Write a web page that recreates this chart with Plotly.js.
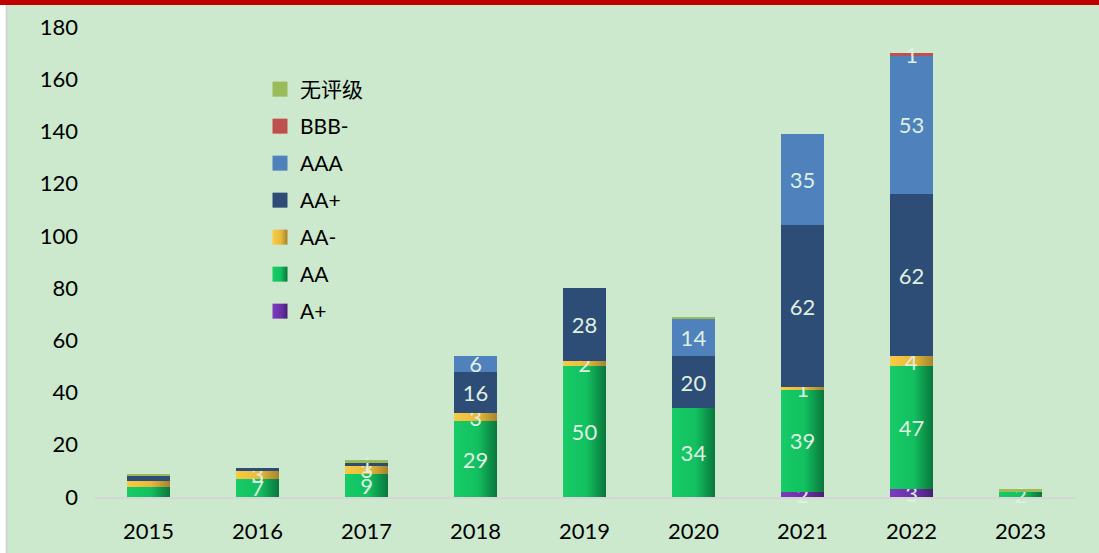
<!DOCTYPE html>
<html>
<head>
<meta charset="utf-8">
<script src="https://cdn.plot.ly/plotly-3.0.1.min.js"></script>
<style>
html,body{margin:0;padding:0;background:#cce9cd;}
#chart{width:1099px;height:553px;}
</style>
</head>
<body>
<div id="chart"></div>
<script>
// ---- data ----
const years = ['2015','2016','2017','2018','2019','2020','2021','2022','2023'];
const valAplus   = [0, 0, 0, 0, 0, 0, 2, 3, 0];
const valAA      = [4, 7, 9, 29, 50, 34, 39, 47, 2];
const valAAminus = [2, 3, 3, 3, 2, 0, 1, 4, 0];
const valAAplus  = [2, 1, 1, 16, 28, 20, 62, 62, 0];
const valAAA     = [0, 0, 0, 6, 0, 14, 35, 53, 0];
const valBBBminus= [0, 0, 0, 0, 0, 0, 0, 1, 0];
const valUnrated = [1, 0, 1, 0, 0, 1, 0, 0, 1];
const yTicks = [0, 20, 40, 60, 80, 100, 120, 140, 160, 180];

// which labels are visible in the reference
const txtAplus   = ['', '', '', '', '', '', '2', '3', ''];
const txtAA      = ['', '7', '9', '29', '50', '34', '39', '47', '2'];
const txtAAminus = ['', '3', '3', '3', '2', '', '1', '4', ''];
const txtAAplus  = ['', '', '1', '16', '28', '20', '62', '62', ''];
const txtAAA     = ['', '', '', '6', '', '14', '35', '53', ''];
const txtBBBminus= ['', '', '', '', '', '', '', '1', ''];
const txtUnrated = ['', '', '', '', '', '', '', '', ''];

const FONT = 'Lato, "Noto Sans CJK SC", sans-serif';
const labelFont = {family: FONT, size: 22, color: '#dff0e0'};

function bar(name, vals, txt, color, rank) {
  return {
    type: 'bar', name: name, x: years, y: vals,
    text: txt, texttemplate: '%{text}',
    textposition: 'inside', insidetextanchor: 'middle',
    constraintext: 'none', textangle: 0,
    textfont: labelFont,
    marker: {color: color, line: {width: 0}},
    legendgroup: 'g' + rank, legendrank: rank,
    hoverinfo: 'skip', cliponaxis: false
  };
}

const traces = [
  bar('A+', valAplus, txtAplus, '#6a2fa8', 7),
  bar('AA', valAA, txtAA, '#12c060', 6),
  bar('AA-', valAAminus, txtAAminus, '#e8b93a', 5),
  bar('AA+', valAAplus, txtAAplus, '#2d4c76', 4),
  bar('AAA', valAAA, txtAAA, '#4f81bd', 3),
  bar('BBB-', valBBBminus, txtBBBminus, '#c0504d', 2),
  bar('无评级', valUnrated, txtUnrated, '#9bbb59', 1)
];

// paper coordinate helpers for decorations (plot area: x 94..1075, y 27..497)
const PX = p => (p - 94) / 981;
const PY = p => (497 - p) / 470;

const layout = {
  width: 1099, height: 553,
  margin: {l: 94, r: 24, t: 27, b: 56},
  paper_bgcolor: '#cce9cd', plot_bgcolor: 'rgba(0,0,0,0)',
  barmode: 'stack', bargap: 0.6,
  font: {family: FONT, size: 20, color: '#000'},
  showlegend: true,
  legend: {
    x: PX(260), y: PY(69), xanchor: 'left', yanchor: 'top',
    bgcolor: 'rgba(0,0,0,0)', traceorder: 'grouped',
    tracegroupgap: 6.7, font: {family: FONT, size: 21, color: '#000'}
  },
  xaxis: {
    type: 'category', range: [-0.5, 8.5], showgrid: false, zeroline: false,
    showline: true, linecolor: '#d6d6d6', linewidth: 2,
    ticks: '', ticklabelstandoff: 14,
    tickfont: {family: FONT, size: 22, color: '#000'}
  },
  yaxis: {
    range: [0, 180], tickvals: yTicks, ticktext: yTicks.map(String),
    showgrid: false, zeroline: false, showline: false, ticks: '',
    ticklabelstandoff: 15,
    tickfont: {family: FONT, size: 22, color: '#000'}
  },
  shapes: [
    {type: 'rect', xref: 'paper', yref: 'paper', layer: 'above',
     x0: PX(-2), x1: PX(1101), y0: PY(5), y1: PY(-2),
     fillcolor: '#c00000', line: {width: 0}},
    {type: 'rect', xref: 'paper', yref: 'paper', layer: 'below',
     x0: PX(-2), x1: PX(6), y0: PY(555), y1: PY(5),
     fillcolor: '#ffffff', line: {width: 0}},
    {type: 'line', xref: 'paper', yref: 'paper', layer: 'below',
     x0: PX(6.5), x1: PX(6.5), y0: PY(555), y1: PY(5),
     line: {color: '#cfcfcf', width: 1.5}}
  ],
  hovermode: false
};

const gradients = {
  'A+':  [['0', '#7b3cbc'], ['0.6', '#6a2fa8'], ['1', '#45206e']],
  'AA':  [['0', '#17cc66'], ['0.55', '#12c060'], ['1', '#0a753c']],
  'AA-': [['0', '#f7cc45'], ['0.55', '#e8b93a'], ['1', '#a4842d']]
};

Plotly.newPlot('chart', traces, layout, {displayModeBar: false, staticPlot: true}).then(gd => {
  const svg = gd.querySelector('svg.main-svg');
  const NS = 'http://www.w3.org/2000/svg';
  let defs = svg.querySelector('defs');
  if (!defs) { defs = document.createElementNS(NS, 'defs'); svg.insertBefore(defs, svg.firstChild); }
  const ids = {};
  Object.keys(gradients).forEach((k, i) => {
    const lg = document.createElementNS(NS, 'linearGradient');
    const id = 'grad' + i;
    lg.setAttribute('id', id);
    lg.setAttribute('x1', '0'); lg.setAttribute('x2', '1');
    lg.setAttribute('y1', '0'); lg.setAttribute('y2', '0');
    gradients[k].forEach(s => {
      const st = document.createElementNS(NS, 'stop');
      st.setAttribute('offset', s[0]);
      st.setAttribute('stop-color', s[1]);
      lg.appendChild(st);
    });
    defs.appendChild(lg);
    ids[k] = id;
  });
  const barTraces = gd.querySelectorAll('.barlayer .trace.bars');
  barTraces.forEach((t, i) => {
    const name = traces[i].name;
    if (ids[name]) t.querySelectorAll('path').forEach(p => { p.style.fill = 'url(#' + ids[name] + ')'; });
  });
  gd.querySelectorAll('.legend .traces').forEach(t => {
    const txt = t.querySelector('.legendtext');
    const name = txt ? txt.textContent : '';
    t.querySelectorAll('.legendpoints path').forEach(p => {
      p.setAttribute('d', 'M7.5,7.5H-7.5V-7.5H7.5Z');
      if (ids[name]) p.style.fill = 'url(#' + ids[name] + ')';
    });
  });
});
</script>
</body>
</html>
